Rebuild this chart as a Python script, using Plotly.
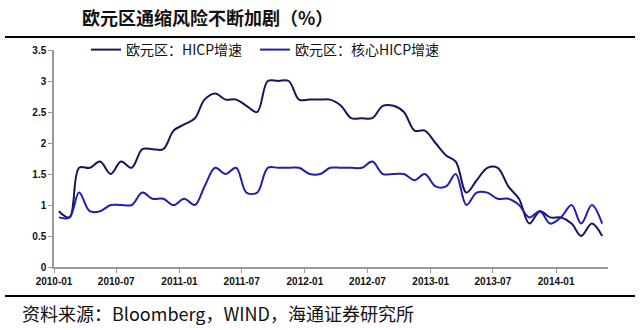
import pandas as pd
import plotly.graph_objects as go

months = pd.date_range("2010-01-01", "2014-05-01", freq="MS") + pd.Timedelta(days=14)

hicp = [0.9, 0.8, 1.6, 1.6, 1.7, 1.5, 1.7, 1.6, 1.9, 1.9, 1.9, 2.2,
        2.3, 2.4, 2.7, 2.8, 2.7, 2.7, 2.6, 2.5, 3.0, 3.0, 3.0, 2.7,
        2.7, 2.7, 2.7, 2.6, 2.4, 2.4, 2.4, 2.6, 2.6, 2.5, 2.2, 2.2,
        2.0, 1.8, 1.7, 1.2, 1.4, 1.6, 1.6, 1.3, 1.1, 0.7, 0.9, 0.8,
        0.8, 0.7, 0.5, 0.7, 0.5]
core = [0.8, 0.8, 1.2, 0.9, 0.9, 1.0, 1.0, 1.0, 1.2, 1.1, 1.1, 1.0,
        1.1, 1.0, 1.3, 1.6, 1.5, 1.6, 1.2, 1.2, 1.6, 1.6, 1.6, 1.6,
        1.5, 1.5, 1.6, 1.6, 1.6, 1.6, 1.7, 1.5, 1.5, 1.5, 1.4, 1.5,
        1.3, 1.3, 1.5, 1.0, 1.2, 1.2, 1.1, 1.1, 1.0, 0.8, 0.9, 0.7,
        0.8, 1.0, 0.7, 1.0, 0.7]

names = ["欧元区：HICP增速", "欧元区：核心HICP增速"]
title = "欧元区通缩风险不断加剧（%）"
source = "资料来源：Bloomberg，WIND，海通证券研究所"

W, H = 640, 330
L, R, T, B = 54, 32, 50, 63
pw, ph = W - L - R, H - T - B

def px(x):
    return (x - L) / pw

def py(y):
    return (H - B - y) / ph

fig = go.Figure()
fig.add_trace(go.Scatter(x=months, y=hicp, name=names[0], mode="lines", legend="legend",
                         line=dict(color="#16165a", width=2, shape="spline", smoothing=1.0)))
fig.add_trace(go.Scatter(x=months, y=core, name=names[1], mode="lines", legend="legend2",
                         line=dict(color="#2020b0", width=2, shape="spline", smoothing=1.0)))

cjk = "Noto Sans CJK SC"
leg_common = dict(orientation="h", xanchor="left", yanchor="middle",
                  font=dict(family=cjk, size=14, color="#111111"),
                  bgcolor="rgba(0,0,0,0)", itemwidth=30)
fig.update_layout(
    width=W, height=H,
    margin=dict(l=L, r=R, t=T, b=B),
    paper_bgcolor="white", plot_bgcolor="white",
    showlegend=True,
    legend=dict(x=px(86), y=py(50), **leg_common),
    legend2=dict(x=px(255), y=py(50), **leg_common),
    xaxis=dict(type="date", range=["2010-01-01", "2014-06-01"], dtick="M6",
               tick0="2010-01-01", tickformat="%Y-%m",
               showline=True, linecolor="#999999", linewidth=1.5,
               ticks="outside", ticklen=4, tickcolor="#999999",
               showgrid=False, zeroline=False,
               tickfont=dict(family="Liberation Sans", size=10, color="#111111", weight="bold")),
    yaxis=dict(range=[0, 3.5], dtick=0.5, tick0=0,
               showline=True, linecolor="#999999", linewidth=1.5,
               ticks="outside", ticklen=4, tickcolor="#999999",
               showgrid=False, zeroline=False,
               tickfont=dict(family="Liberation Sans", size=10, color="#111111", weight="bold")),
    shapes=[
        dict(type="line", xref="paper", yref="paper", x0=px(5), x1=px(635), y0=py(37), y1=py(37),
             line=dict(color="black", width=2)),
        dict(type="line", xref="paper", yref="paper", x0=px(5), x1=px(635), y0=py(296), y1=py(296),
             line=dict(color="black", width=2)),
    ],
    annotations=[
        dict(text=f"<b>{title}</b>", xref="paper", yref="paper", x=px(80), y=py(17),
             xanchor="left", yanchor="middle", showarrow=False,
             font=dict(family=cjk, size=18, color="#111111")),
        dict(text=source, xref="paper", yref="paper", x=px(20), y=py(313),
             xanchor="left", yanchor="middle", showarrow=False,
             font=dict(family=cjk, size=18, color="#111111")),
    ],
)

fig.write_html("out.html")
